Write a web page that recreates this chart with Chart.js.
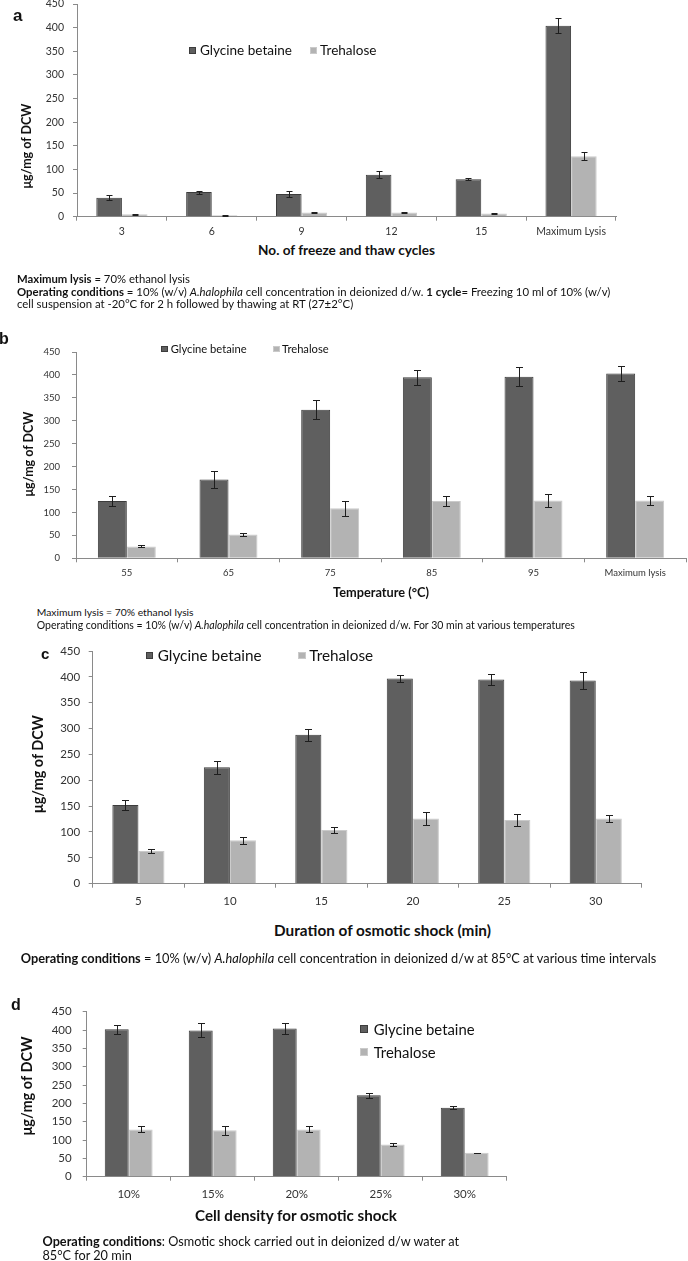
<!DOCTYPE html>
<html>
<head>
<meta charset="utf-8">
<script src="https://cdn.jsdelivr.net/npm/chart.js@4.4.1/dist/chart.umd.min.js"></script>
<style>
  html, body { margin: 0; padding: 0; background: #fff; }
  #fig { position: relative; width: 688px; height: 1261px; overflow: hidden; font-family: Lato, "Open Sans", sans-serif; color: #111; }
  #fig canvas { position: absolute; left: 0; z-index: 1; }
  .t { position: absolute; white-space: nowrap; line-height: 1; z-index: 2; }
  .box { position: absolute; z-index: 2; box-sizing: border-box; }
</style>
</head>
<body>
<div id="fig"></div>
<script>
(function () {
  "use strict";

  /* ---- data ------------------------------------------------------- */
  var SERIES = ["Glycine betaine", "Trehalose"];

  var aLabels = ["3", "6", "9", "12", "15", "Maximum Lysis"];
  var aGlycine = [40, 52, 48, 89, 79, 404];
  var aGlycineErr = [5, 3, 6, 7, 2, 16];
  var aTrehalose = [5, 3, 9, 9, 7, 128];
  var aTrehaloseErr = [1, 1, 1, 1, 1, 9];

  var bLabels = ["55", "65", "75", "85", "95", "Maximum lysis"];
  var bGlycine = [125, 172, 324, 395, 396, 403];
  var bGlycineErr = [11, 19, 21, 16, 21, 17];
  var bTrehalose = [26, 52, 109, 125, 126, 126];
  var bTrehaloseErr = [2, 3, 16, 11, 15, 10];

  var cLabels = ["5", "10", "15", "20", "25", "30"];
  var cGlycine = [152, 225, 288, 397, 395, 393];
  var cGlycineErr = [9, 12, 12, 7, 10, 17];
  var cTrehalose = [63, 84, 104, 126, 123, 126];
  var cTrehaloseErr = [4, 7, 6, 12, 12, 7];

  var dLabels = ["10%", "15%", "20%", "25%", "30%"];
  var dGlycine = [402, 399, 404, 222, 188];
  var dGlycineErr = [12, 19, 16, 7, 4];
  var dTrehalose = [129, 127, 129, 88, 65];
  var dTrehaloseErr = [8, 12, 8, 4, 1];

  var Y_MIN = 0, Y_MAX = 450, Y_STEP = 50;

  /* ---- styles ----------------------------------------------------- */
  var GB_FILL = "#5f5f5f", GB_EDGE = "#3c3c3c";
  var TR_FILL = "#b3b3b3", TR_EDGE = "#cacaca";
  var AXIS = "#8a8a8a", TICK_TXT = "#333";
  var fig = document.getElementById("fig");

  /* error bars drawn through the y scale */
  var errorBars = {
    id: "errorBars",
    afterDatasetsDraw: function (chart, args, opts) {
      var ctx = chart.ctx, ys = chart.scales.y, c = opts.cap || 3;
      ctx.save();
      ctx.strokeStyle = "#1e1e1e";
      ctx.lineWidth = 1;
      chart.data.datasets.forEach(function (ds, i) {
        chart.getDatasetMeta(i).data.forEach(function (bar, j) {
          var v = ds.data[j], e = ds.errors[j];
          if (!e) return;
          var x = Math.round(bar.x) + 0.5;
          var y1 = Math.round(ys.getPixelForValue(v + e)) + 0.5;
          var y2 = Math.round(ys.getPixelForValue(v - e)) + 0.5;
          ctx.beginPath();
          ctx.moveTo(x, y1); ctx.lineTo(x, y2);
          ctx.moveTo(x - c, y1); ctx.lineTo(x + c, y1);
          ctx.moveTo(x - c, y2); ctx.lineTo(x + c, y2);
          ctx.stroke();
        });
      });
      ctx.restore();
    }
  };

  function makePanel(p) {
    var cv = document.createElement("canvas");
    cv.width = 688; cv.height = p.height;
    cv.style.top = p.top + "px";
    cv.style.width = "688px"; cv.style.height = p.height + "px";
    fig.appendChild(cv);
    var tickFont = { family: "Lato", size: p.tick };
    new Chart(cv, {
      type: "bar",
      data: {
        labels: p.labels,
        datasets: [
          { label: SERIES[0], data: p.gb, errors: p.gbErr, backgroundColor: GB_FILL,
            borderColor: GB_EDGE, borderWidth: 1, categoryPercentage: 0.57, barPercentage: 1 },
          { label: SERIES[1], data: p.tr, errors: p.trErr, backgroundColor: TR_FILL,
            borderColor: TR_EDGE, borderWidth: 1, categoryPercentage: 0.57, barPercentage: 1 }
        ]
      },
      options: {
        responsive: false,
        animation: false,
        devicePixelRatio: 1,
        layout: { padding: { left: 0, right: 688 - p.R, top: p.y450 - p.top, bottom: 0 } },
        plugins: { legend: { display: false }, tooltip: { enabled: false }, errorBars: { cap: p.cap } },
        scales: {
          x: {
            grid: { drawOnChartArea: false, tickLength: 4, color: AXIS },
            border: { color: AXIS },
            ticks: { font: tickFont, color: TICK_TXT, padding: p.xPad, maxRotation: 0, autoSkip: false },
            afterFit: function (s) { s.height = p.top + p.height - p.y0; }
          },
          y: {
            min: Y_MIN, max: Y_MAX,
            grid: { drawOnChartArea: false, tickLength: 4, color: AXIS },
            border: { color: AXIS },
            ticks: { stepSize: Y_STEP, font: tickFont, color: TICK_TXT, padding: p.yPad },
            afterFit: function (s) { s.width = p.L; }
          }
        }
      },
      plugins: [errorBars]
    });
  }

  makePanel({ labels: aLabels, gb: aGlycine, gbErr: aGlycineErr, tr: aTrehalose, trErr: aTrehaloseErr,
    top: -20, height: 262, L: 77, R: 616, y450: 4, y0: 216.7, tick: 10.5, xPad: 4.4, yPad: 9, cap: 3 });
  makePanel({ labels: bLabels, gb: bGlycine, gbErr: bGlycineErr, tr: bTrehalose, trErr: bTrehaloseErr,
    top: 330, height: 260, L: 76, R: 686, y450: 352, y0: 558.3, tick: 9.5, xPad: 5, yPad: 12, cap: 3.5 });
  makePanel({ labels: cLabels, gb: cGlycine, gbErr: cGlycineErr, tr: cTrehalose, trErr: cTrehaloseErr,
    top: 630, height: 285, L: 92.7, R: 641.5, y450: 651, y0: 883.7, tick: 11.5, xPad: 6.8, yPad: 8.5, cap: 3.5 });
  makePanel({ labels: dLabels, gb: dGlycine, gbErr: dGlycineErr, tr: dTrehalose, trErr: dTrehaloseErr,
    top: 990, height: 220, L: 86.7, R: 506.7, y450: 1011.7, y0: 1176.7, tick: 11.5, xPad: 7, yPad: 11, cap: 3.5 });

  /* ---- text outside the plots ------------------------------------- */
  var lastSize = 12;
  function addText(html, o) {
    var el = document.createElement("div");
    el.className = "t";
    el.innerHTML = html;
    el.style.fontWeight = o.bold ? "700" : "400";
    if (o.family) el.style.fontFamily = o.family;
    var size = o.same ? lastSize : (o.size || 20);
    el.style.fontSize = size + "px";
    fig.appendChild(el);
    if (o.w) {
      size = size * o.w / el.getBoundingClientRect().width;
      el.style.fontSize = size + "px";
    }
    lastSize = size;
    el.style.top = o.cy + "px";
    if (o.cx !== undefined) {
      el.style.left = o.cx + "px";
      el.style.transform = "translate(-50%,-50%)" + (o.rot ? " rotate(-90deg)" : "");
    } else {
      el.style.left = o.left + "px";
      el.style.transform = "translateY(-50%)";
    }
  }
  function addBox(x, cy, s, fill, edge) {
    var b = document.createElement("div");
    b.className = "box";
    b.style.left = x + "px"; b.style.top = (cy - s / 2) + "px";
    b.style.width = s + "px"; b.style.height = s + "px";
    b.style.background = fill; b.style.border = "1px solid " + edge;
    fig.appendChild(b);
  }
  function legend(x1, x2, cy, s, w, row2) {
    // x1: box left, x2: text left; second item either on the same row or below
    addBox(x1, cy, s, GB_FILL, GB_EDGE);
    addText(SERIES[0], { left: x2, cy: cy, w: w });
    if (row2) {
      addBox(x1, row2, s, TR_FILL, TR_EDGE);
      addText(SERIES[1], { left: x2, cy: row2, same: true });
    }
  }

  /* panel letters */
  addText("a", { left: 13, cy: 15, size: 17, bold: true, family: "Liberation Sans" });
  addText("b", { left: -1, cy: 339, size: 16, bold: true, family: "Liberation Sans" });
  addText("c", { left: 41, cy: 653, size: 15, bold: true, family: "Liberation Sans" });
  addText("d", { left: 11, cy: 1005, size: 16, bold: true, family: "Liberation Sans" });

  /* legends */
  addBox(189, 50.7, 6.5, GB_FILL, GB_EDGE);
  addText(SERIES[0], { left: 200, cy: 50.7, w: 92 });
  addBox(310, 50.7, 6.5, TR_FILL, TR_EDGE);
  addText(SERIES[1], { left: 320, cy: 50.7, same: true });

  addBox(161, 349, 6.5, GB_FILL, GB_EDGE);
  addText(SERIES[0], { left: 170.7, cy: 349, w: 76 });
  addBox(273, 349, 6.5, TR_FILL, TR_EDGE);
  addText(SERIES[1], { left: 282, cy: 349, same: true });

  addBox(145.7, 655.7, 7.5, GB_FILL, GB_EDGE);
  addText(SERIES[0], { left: 157.7, cy: 655.7, w: 104 });
  addBox(298, 655.7, 7.5, TR_FILL, TR_EDGE);
  addText(SERIES[1], { left: 309.3, cy: 655.7, same: true });

  legend(360, 373.7, 1029.3, 8, 101, 1052.3);

  /* axis titles */
  var YT = "\u03bcg/mg of DCW";
  addText("No. of freeze and thaw cycles", { cx: 346.5, cy: 250.7, w: 177, bold: true });
  addText(YT, { cx: 27, cy: 145.8, w: 85, bold: true, rot: true });
  addText("Temperature (\u00b0C)", { cx: 381, cy: 591.7, w: 96, bold: true });
  addText(YT, { cx: 29, cy: 454, w: 85, bold: true, rot: true });
  addText("Duration of osmotic shock (min)", { cx: 382.5, cy: 931, w: 217, bold: true });
  addText(YT, { cx: 37.7, cy: 764, w: 98, bold: true, rot: true });
  addText("Cell density for osmotic shock", { cx: 296, cy: 1215.7, w: 202, bold: true });
  addText(YT, { cx: 27, cy: 1085.5, w: 99, bold: true, rot: true });

  /* notes */
  addText("<b>Maximum lysis</b> = 70% ethanol lysis", { left: 17, cy: 279, w: 173 });
  addText("<b>Operating conditions</b> = 10% (w/v) <i>A.halophila</i> cell concentration in deionized d/w. <b>1 cycle</b>= Freezing 10 ml of 10% (w/v)", { left: 17, cy: 291.5, w: 594 });
  addText("cell suspension at -20\u00b0C for 2 h followed by thawing at RT (27\u00b12\u00b0C)", { left: 17, cy: 304, same: true });

  addText("Maximum lysis = 70% ethanol lysis", { left: 36.7, cy: 612, w: 157 });
  addText("Operating conditions = 10% (w/v) <i>A.halophila</i> cell concentration in deionized d/w. For 30 min at various temperatures", { left: 36.7, cy: 625, w: 539 });

  addText("<b>Operating conditions</b> = 10% (w/v) <i>A.halophila</i> cell concentration in deionized d/w at 85\u00b0C at various time intervals", { left: 20.7, cy: 958, w: 636 });

  addText("<b>Operating conditions</b>: Osmotic shock carried out in deionized d/w water at", { left: 42.5, cy: 1240.7, w: 417 });
  addText("85\u00b0C for 20 min", { left: 42.5, cy: 1255, same: true });
})();
</script>
</body>
</html>
